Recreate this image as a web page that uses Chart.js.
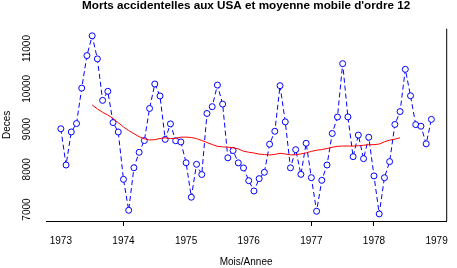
<!DOCTYPE html>
<html>
<head>
<meta charset="utf-8">
<script src="https://cdn.jsdelivr.net/npm/chart.js@4"></script>
<style>
  body { margin: 0; background: #fff; }
  canvas { display: block; }
</style>
</head>
<body>
<canvas id="chart" width="457" height="268"></canvas>
<script>
// monthly accidental deaths, Jan 1973 - Dec 1978
const startYear = 1973;
const deaths = [
    9007, 8106, 8928, 9137, 10017, 10826, 11317, 10744, 9713, 9938, 9161, 8927,
    7750, 6981, 8038, 8422, 8714, 9512, 10120, 9823, 8743, 9129, 8710, 8680,
    8162, 7306, 8124, 7870, 9387, 9556, 10093, 9620, 8285, 8466, 8160, 8034,
    7717, 7461, 7767, 7925, 8623, 8945, 10078, 9179, 8037, 8488, 7874, 8647,
    7792, 6957, 7726, 8106, 8890, 9299, 10625, 9302, 8314, 8850, 8265, 8796,
    7836, 6892, 7791, 8192, 9115, 9434, 10484, 9827, 9110, 9070, 8633, 9240
];

// centred moving average of order 12, Jul 1973 - Jun 1978
const maStart = 1973.5;
const movingAvg = [
    9599.4, 9500.1, 9416.2, 9349.3, 9265.2, 9156.2, 9051.5, 8963.3, 8884.5, 8810.4, 8757.9, 8728.8,
    8735.7, 8766.4, 8783.5, 8764.1, 8769.1, 8799.0, 8799.7, 8790.1, 8762.6, 8715.9, 8665.3, 8615.5,
    8570.0, 8558.0, 8549.5, 8537.0, 8507.4, 8450.1, 8424.0, 8405.0, 8376.3, 8366.9, 8355.9, 8369.5,
    8398.2, 8380.3, 8357.6, 8363.5, 8382.1, 8408.0, 8445.5, 8473.5, 8490.1, 8516.8, 8548.1, 8570.6,
    8578.7, 8577.8, 8577.8, 8584.1, 8597.0, 8612.0, 8611.8, 8627.8, 8682.8, 8725.2, 8749.7, 8783.5
];

const xTicks = [1973, 1974, 1975, 1976, 1977, 1978, 1979];
const xTickMarks = [1974, 1977, 1978];
const yTicks = [7000, 8000, 9000, 10000, 11000];

const fontFamily = '"Liberation Sans", Arial, Helvetica, sans-serif';

// y labels are drawn rotated like R does, plus the right-hand box edge
const extras = {
    id: 'extras',
    afterDraw(chart) {
        const ctx = chart.ctx;
        const area = chart.chartArea;
        const y = chart.scales.y;
        ctx.save();
        ctx.strokeStyle = '#000';
        ctx.lineWidth = 1;
        ctx.beginPath();
        ctx.moveTo(area.right + 0.5, area.top);
        ctx.lineTo(area.right + 0.5, area.bottom);
        ctx.stroke();

        ctx.fillStyle = '#000';
        ctx.font = '10px ' + fontFamily;
        ctx.textAlign = 'center';
        ctx.textBaseline = 'middle';
        yTicks.forEach(v => {
            const py = y.getPixelForValue(v);
            ctx.save();
            ctx.translate(27, py);
            ctx.rotate(-Math.PI / 2);
            ctx.fillText(String(v), 0, 0);
            ctx.restore();
        });
        ctx.restore();
    }
};

new Chart(document.getElementById('chart'), {
    type: 'line',
    data: {
        datasets: [
            {
                label: 'Moyenne mobile',
                data: movingAvg.map((v, i) => ({ x: maStart + i / 12, y: v })),
                borderColor: '#ff0000',
                borderWidth: 1,
                pointRadius: 0,
                fill: false,
                tension: 0
            },
            {
                label: 'Deces',
                data: deaths.map((v, i) => ({ x: startYear + i / 12, y: v })),
                borderColor: '#0000ff',
                borderWidth: 1,
                borderDash: [5, 3],
                pointRadius: 3,
                pointBorderColor: '#0000ff',
                pointBackgroundColor: '#ffffff',
                pointBorderWidth: 1,
                fill: false,
                tension: 0
            }
        ]
    },
    options: {
        responsive: false,
        animation: false,
        devicePixelRatio: 1,
        layout: { padding: { top: 0, right: 1, bottom: 0, left: 0 } },
        plugins: {
            legend: { display: false },
            tooltip: { enabled: false },
            title: {
                display: true,
                fullSize: false,
                text: "Morts accidentelles aux USA et moyenne mobile d'ordre 12",
                color: '#000',
                font: { family: fontFamily, size: 11.7, weight: 'bold', lineHeight: 1 },
                padding: { top: 0, bottom: 17 }
            }
        },
        scales: {
            x: {
                type: 'linear',
                min: 1972.763,
                max: 1979.153,
                afterBuildTicks: scale => {
                    scale.ticks = xTicks.map(v => ({ value: v }));
                },
                afterFit: scale => { scale.height = 47; },
                ticks: {
                    autoSkip: false,
                    maxRotation: 0,
                    minRotation: 0,
                    padding: 9,
                    color: '#000',
                    font: { family: fontFamily, size: 10 },
                    callback: v => String(v)
                },
                grid: {
                    drawOnChartArea: false,
                    drawTicks: true,
                    tickLength: 5,
                    color: ctx => xTickMarks.includes(ctx.tick && ctx.tick.value) ? '#000' : 'rgba(0,0,0,0)'
                },
                border: { display: true, color: '#000', width: 1 },
                title: {
                    display: true,
                    text: 'Mois/Annee',
                    color: '#000',
                    font: { family: fontFamily, size: 10, lineHeight: 1.2 },
                    padding: { top: 0, bottom: 0 }
                }
            },
            y: {
                min: 6715,
                max: 11494,
                afterFit: scale => { scale.width = 46; },
                ticks: { display: false },
                grid: { display: false },
                border: { display: false },
                title: {
                    display: true,
                    text: 'Deces',
                    color: '#000',
                    font: { family: fontFamily, size: 10, lineHeight: 1.2 },
                    padding: { top: 1, bottom: 0 }
                }
            }
        }
    },
    plugins: [extras]
});
</script>
</body>
</html>
